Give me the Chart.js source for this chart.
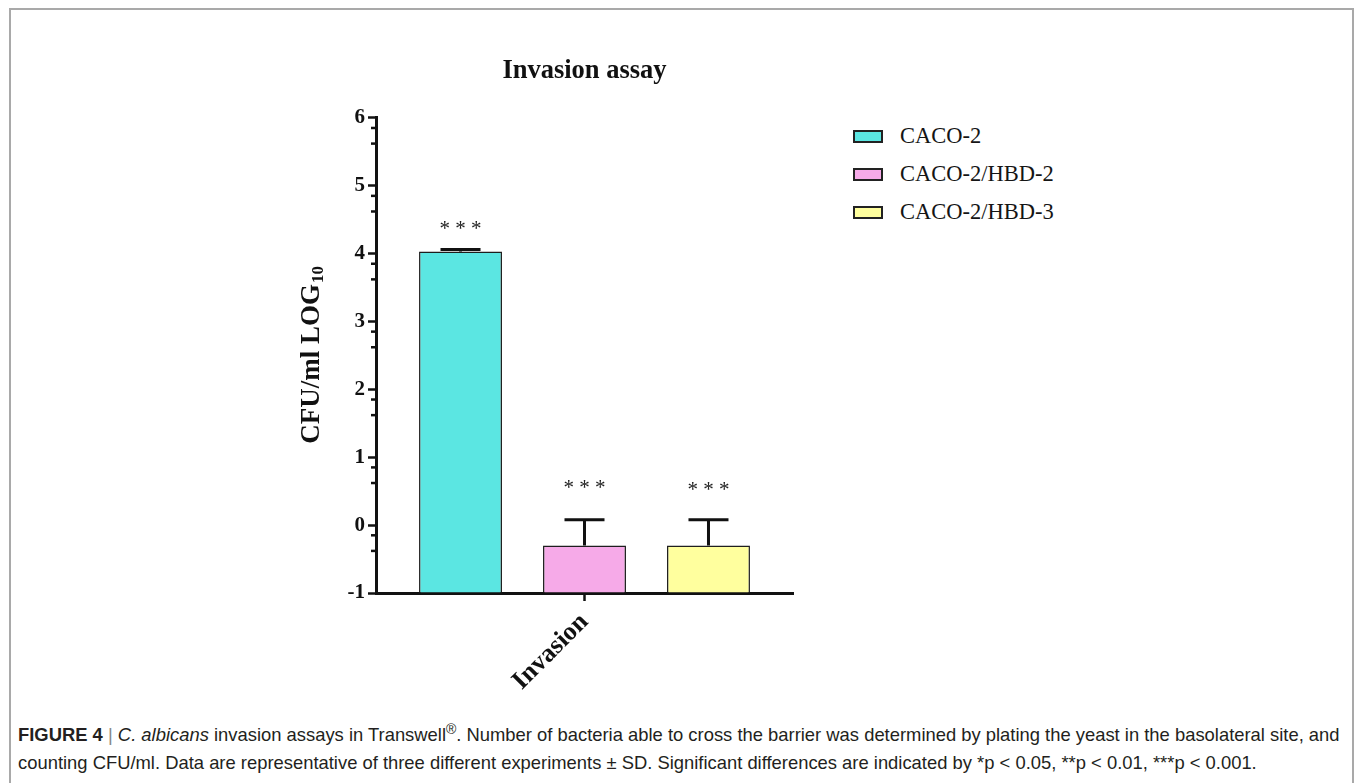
<!DOCTYPE html>
<html lang="es">
<head>
<meta charset="utf-8">
<title>Invasion assay</title>
<script src="https://cdn.jsdelivr.net/npm/chart.js@4.4.1/dist/chart.umd.min.js"></script>
<style>
  html, body { margin: 0; padding: 0; background: #fff; overflow: hidden; }
  body { width: 1355px; height: 783px; position: relative; }
  #marco { position: absolute; left: 9px; top: 8px; width: 1345px; height: 820px; border: 2px solid #a9a9a9; box-sizing: border-box; }
  #grafico { position: absolute; left: 200px; top: 40px; }
  #leyenda { position: absolute; left: 853px; top: 126px; font-family: "Liberation Serif", "Times New Roman", serif; font-size: 22.5px; color: #151515; }
  .item { display: flex; align-items: center; height: 20px; margin-bottom: 18px; }
  .caja { width: 30px; height: 13px; border: 2px solid #222; box-sizing: border-box; margin-right: 17px; }
  #pie { position: absolute; left: 18px; top: 721px; font-family: "Liberation Sans", Arial, sans-serif; font-size: 18.4px; line-height: 28px; color: #231f20; white-space: nowrap; }
  #pie .sep { color: #888; }
  #pie sup { font-size: 14px; line-height: 0; vertical-align: 7px; }
</style>
</head>
<body>
<div id="marco"></div>
<canvas id="grafico" width="640" height="680"></canvas>
<div id="leyenda"></div>
<div id="pie"><b>FIGURE 4</b> <span class="sep">|</span> <i>C. albicans</i> invasion assays in Transwell<sup>®</sup>. Number of bacteria able to cross the barrier was determined by plating the yeast in the basolateral site, and<br>counting CFU/ml. Data are representative of three different experiments ± SD. Significant differences are indicated by *p &lt; 0.05, **p &lt; 0.01, ***p &lt; 0.001.</div>

<script>
// Datos
const categorias = ['Invasion'];                              // única categoría del eje X
const grupos = ['CACO-2', 'CACO-2/HBD-2', 'CACO-2/HBD-3'];    // series (una barra cada una)
const medias = [4.03, -0.3, -0.3];                            // CFU/ml en LOG10
const desviaciones = [0.03, 0.38, 0.38];                      // ± SD (solo hacia arriba)
const significancia = ['* * *', '* * *', '* * *'];            // marcas de significancia
const alturaAsteriscos = [4.45, 0.63, 0.61];                  // altura de los asteriscos (unidades del eje Y)
const ticksY = [-1, 0, 1, 2, 3, 4, 5, 6];                     // marcas principales del eje Y
const ticksMenoresY = [5.85, 5.62, 4.85, 4.62, 3.85, 3.62, 2.85, 2.62, 1.85, 1.62, 0.85, 0.62, -0.15, -0.38]; // marcas menores
const colores = ['#5be6e2', '#f6aae8', '#ffff9e'];            // relleno de cada barra

const serif = '"Liberation Serif", "Times New Roman", serif';

// Leyenda en HTML, a partir de los mismos arrays
const leyenda = document.getElementById('leyenda');
grupos.forEach((g, i) => {
  const fila = document.createElement('div');
  fila.className = 'item';
  fila.innerHTML = '<span class="caja" style="background:' + colores[i] + '"></span><span>' + g + '</span>';
  leyenda.appendChild(fila);
});

// Plugin: barras de error, asteriscos, marcas menores y título del eje Y con subíndice
const extras = {
  id: 'extras',
  afterDatasetsDraw(chart) {
    const { ctx, scales: { y } } = chart;
    ctx.save();
    chart.data.datasets.forEach((ds, i) => {
      const barra = chart.getDatasetMeta(i).data[0];
      const yMedia = y.getPixelForValue(medias[i]);
      const ySup = y.getPixelForValue(medias[i] + desviaciones[i]);
      ctx.strokeStyle = '#111';
      ctx.lineWidth = 3;
      ctx.beginPath();
      ctx.moveTo(barra.x, yMedia);
      ctx.lineTo(barra.x, ySup);
      ctx.moveTo(barra.x - 20, ySup);
      ctx.lineTo(barra.x + 20, ySup);
      ctx.stroke();

      ctx.font = '21px ' + serif;
      ctx.fillStyle = '#222';
      ctx.textAlign = 'center';
      ctx.textBaseline = 'alphabetic';
      ctx.fillText(significancia[i], barra.x, y.getPixelForValue(alturaAsteriscos[i]) + 12);
    });
    ctx.restore();
  },
  afterDraw(chart) {
    const { ctx, scales: { y }, chartArea } = chart;
    ctx.save();
    // marcas menores del eje Y
    ctx.strokeStyle = '#111';
    ctx.lineWidth = 2.5;
    ticksMenoresY.forEach((v) => {
      const py = y.getPixelForValue(v);
      ctx.beginPath();
      ctx.moveTo(chartArea.left - 5, py);
      ctx.lineTo(chartArea.left, py);
      ctx.stroke();
    });
    // título del eje Y: CFU/ml LOG10
    const principal = 'CFU/ml LOG';
    const sub = '10';
    ctx.translate(y.left + 16, (chartArea.top + chartArea.bottom) / 2);
    ctx.rotate(-Math.PI / 2);
    ctx.fillStyle = '#111';
    ctx.textBaseline = 'middle';
    ctx.textAlign = 'left';
    ctx.font = 'bold 27px ' + serif;
    const w1 = ctx.measureText(principal).width;
    ctx.font = 'bold 17px ' + serif;
    const w2 = ctx.measureText(sub).width;
    const x0 = -(w1 + w2) / 2;
    ctx.font = 'bold 27px ' + serif;
    ctx.fillText(principal, x0, 0);
    ctx.font = 'bold 17px ' + serif;
    ctx.fillText(sub, x0 + w1 + 1, 7);
    ctx.restore();
  }
};

new Chart(document.getElementById('grafico'), {
  type: 'bar',
  data: {
    labels: categorias,
    datasets: grupos.map((g, i) => ({
      label: g,
      data: [medias[i]],
      base: -1,                      // las barras nacen en el eje X (-1)
      backgroundColor: colores[i],
      borderColor: '#1e1e1e',
      borderWidth: 1.5,
      categoryPercentage: 0.892,
      barPercentage: 0.669
    }))
  },
  options: {
    responsive: false,
    animation: false,
    layout: { padding: { left: 96, right: 47, top: 0, bottom: 0 } },
    plugins: {
      legend: { display: false },
      tooltip: { enabled: false },
      title: {
        display: true,
        text: 'Invasion assay',
        fullSize: false,
        color: '#111',
        font: { family: serif, size: 26.5, weight: 'bold' },
        padding: { top: 15, bottom: 31 }
      }
    },
    scales: {
      x: {
        grid: { display: true, drawOnChartArea: false, offset: false, tickLength: 8, tickWidth: 2.5, tickColor: '#111' },
        border: { display: true, color: '#111', width: 3 },
        ticks: { color: '#111', font: { family: serif, size: 26, weight: 'bold' }, minRotation: 45, maxRotation: 45, padding: 6 },
        afterFit: (s) => { s.height = 127; }
      },
      y: {
        min: -1,
        max: 6,
        afterBuildTicks: (s) => { s.ticks = ticksY.map((v) => ({ value: v })); },
        grid: { drawOnChartArea: false, tickLength: 8, tickWidth: 2.5, tickColor: '#111' },
        border: { color: '#111', width: 3 },
        ticks: { color: '#111', font: { family: serif, size: 21, weight: 'bold' }, padding: 3 },
        afterFit: (s) => { s.width = 80; }
      }
    }
  },
  plugins: [extras]
});
</script>
</body>
</html>
